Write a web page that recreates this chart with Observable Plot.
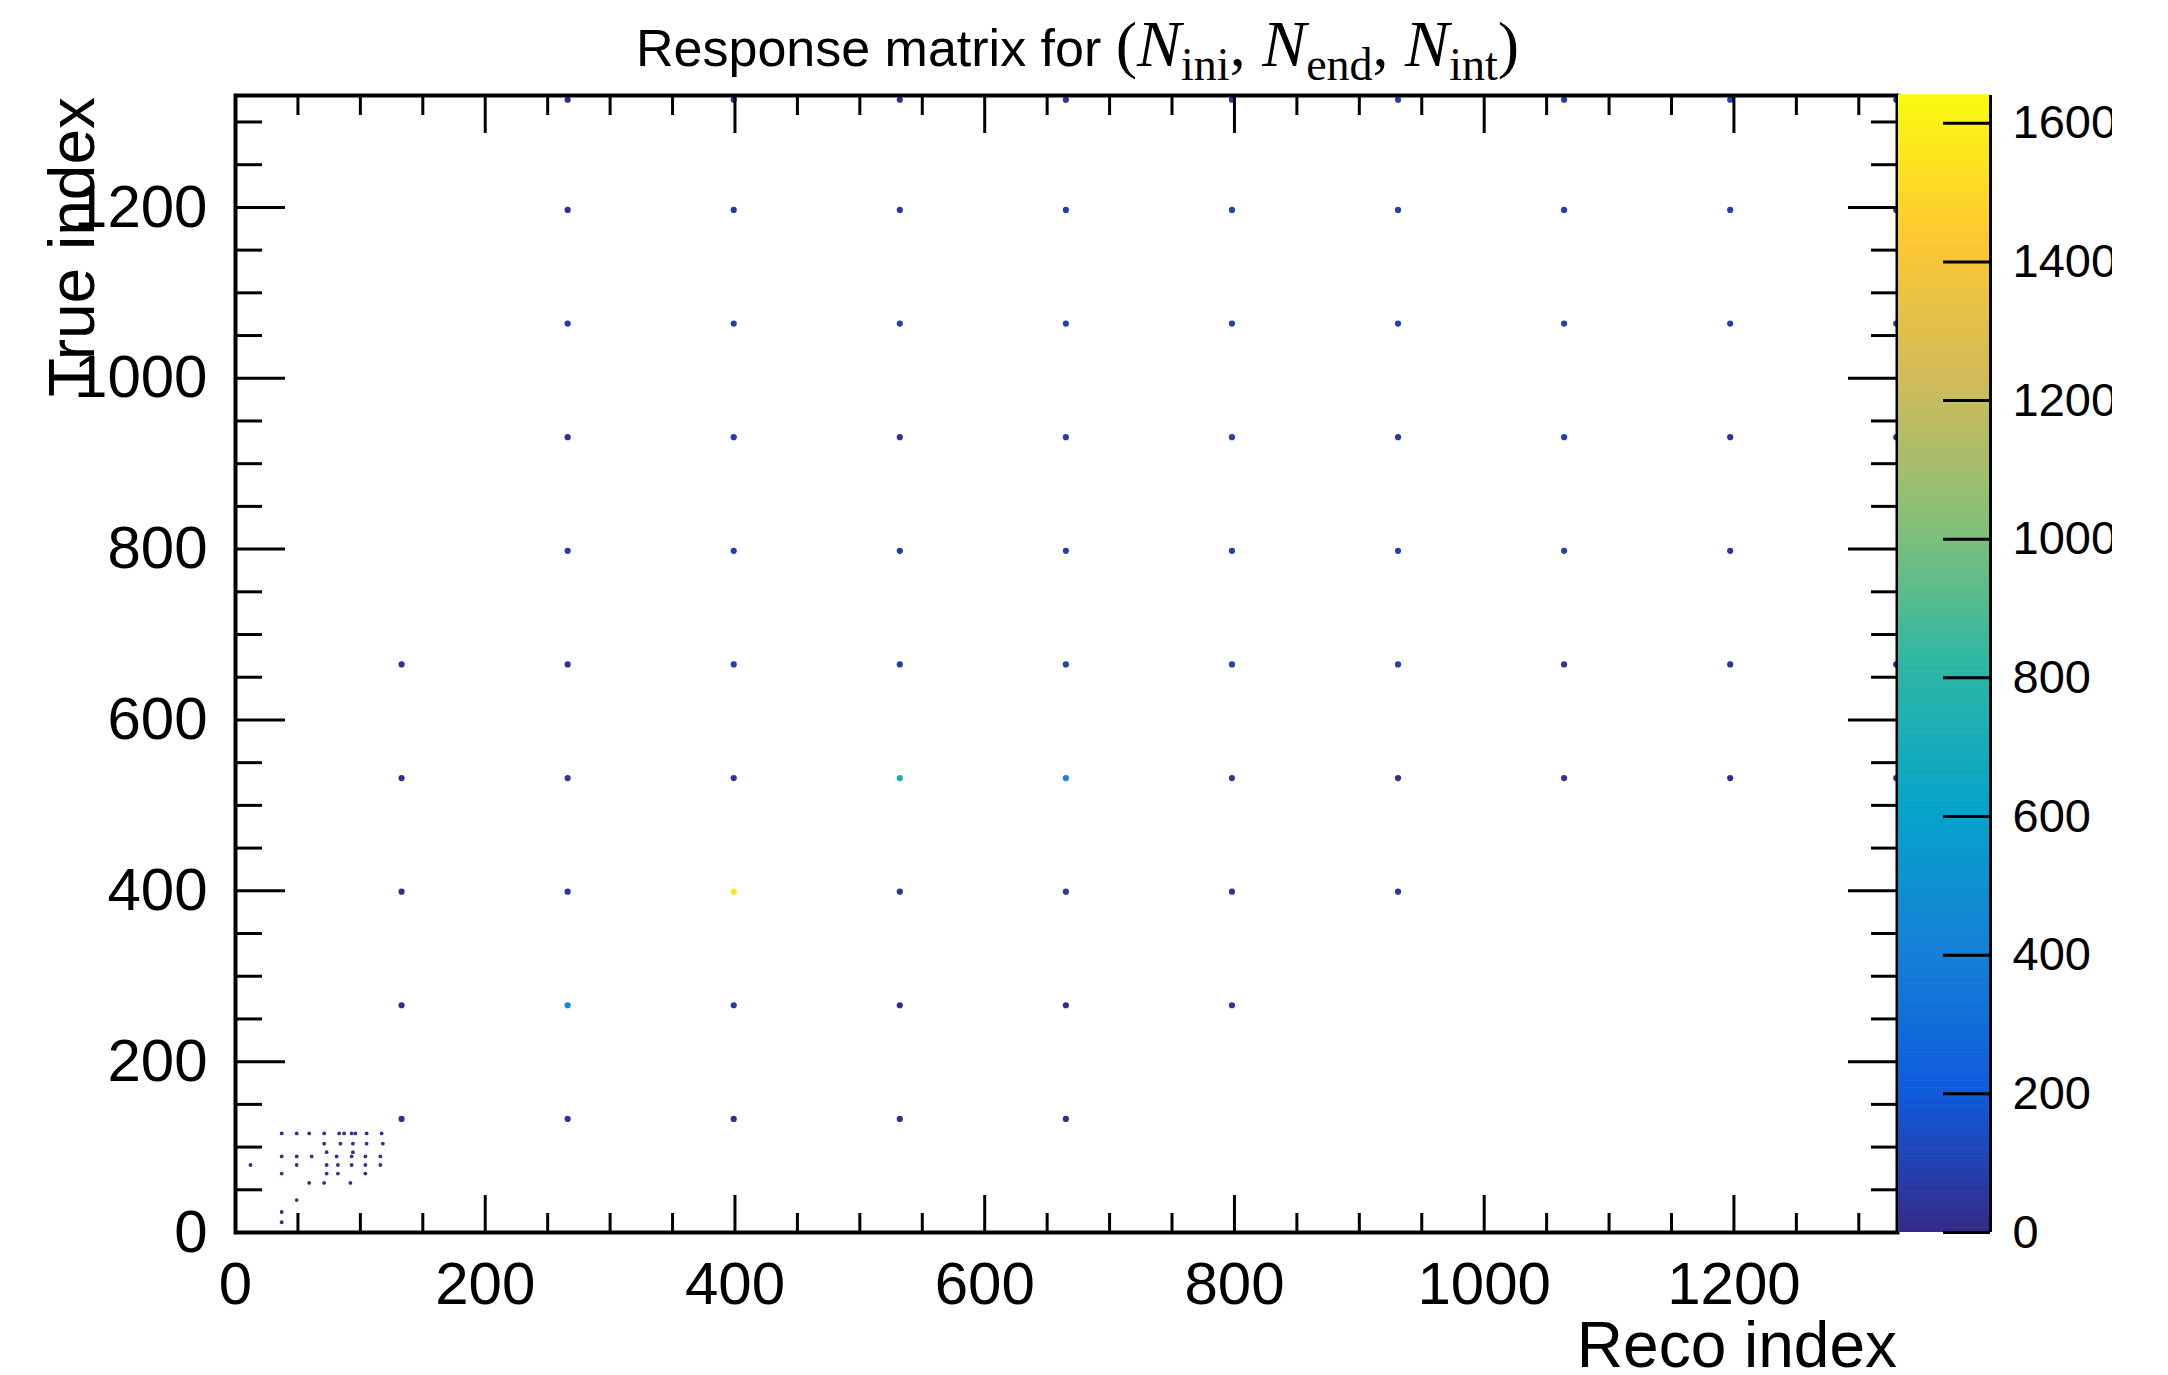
<!DOCTYPE html>
<html><head><meta charset="utf-8">
<script src="https://cdn.jsdelivr.net/npm/d3@7"></script>
<script src="https://cdn.jsdelivr.net/npm/@observablehq/plot@0.6"></script>
<style>
html,body{margin:0;padding:0;background:#fff;}
#root{position:relative;width:2168px;height:1375px;overflow:hidden;background:#fff;}
#main{position:absolute;left:0;top:0;}
#cbar{position:absolute;left:1898px;top:0;width:214px;height:1375px;overflow:hidden;}
#overlay{position:absolute;left:0;top:0;pointer-events:none;}
</style></head>
<body><div id="root"><div id="main"></div><div id="cbar"></div><svg id="overlay" width="2168" height="1375"></svg></div>
<script>
// ---------- data ----------
const recoCols = [133, 266, 399, 532, 665, 798, 931, 1064, 1197, 1330];
// counts of the blobs on each "true index" row, one entry per reco column (null = empty)
const row1326 = [null, 12, 12, 12, 40, 40, 80, 80, 80, 60];
const row1197 = [null, 30, 60, 50, 90, 90, 90, 90, 80, 40];
const row1064 = [null, 60, 80, 80, 90, 90, 90, 90, 100, 40];
const row931  = [null, 20, 80, 40, 90, 90, 70, 90, 40, 15];
const row798  = [null, 70, 80, 60, 90, 90, 80, 90, 40, null];
const row665  = [30, 40, 80, 90, 90, 90, 80, 50, 35, 25];
const row532  = [20, 50, 45, 700, 450, 50, 35, 35, 15, 15];
const row399  = [15, 45, 1550, 45, 50, 45, 50, null, null, null];
const row266  = [15, 480, 60, 15, 15, 40, null, null, null, null];
const row133  = [15, 50, 15, 15, 15, null, null, null, null, null];
const trueRows = [1326, 1197, 1064, 931, 798, 665, 532, 399, 266, 133];
const rowCounts = [row1326, row1197, row1064, row931, row798, row665, row532, row399, row266, row133];

// low-index cluster near the origin
const clusterReco  = [37, 49, 59, 71, 83, 87, 93, 96, 105, 117,  71, 84, 94, 105, 118,  73, 94,  37, 49, 61, 81, 93, 104, 116,  12, 49, 73, 82, 93, 104, 116,  37, 73, 82, 104,  59, 71, 92,  49, 37, 37];
const clusterTrue  = [116,116,116,116,116,116,116,116,116,116, 104,104,104,104,104, 94, 94, 89, 89, 89, 89, 89, 89, 89, 79, 79, 79, 79, 79, 79, 79, 69, 69, 69, 69, 58, 58, 58, 38, 24, 12];
const clusterCount = [20, 20, 25, 30, 35, 35, 35, 30, 30, 35,  20, 25, 25, 25, 25,  20, 20,  25, 25, 20, 30, 30, 30, 30,  15, 20, 25, 25, 25, 25, 25,  20, 20, 20, 20,  30, 30, 20,  20, 15, 15];

const xMajor = [0, 200, 400, 600, 800, 1000, 1200];
const xMinor = [50, 100, 150, 250, 300, 350, 450, 500, 550, 650, 700, 750, 850, 900, 950, 1050, 1100, 1150, 1250, 1300];
const yMajor = [0, 200, 400, 600, 800, 1000, 1200];
const yMinor = [50, 100, 150, 250, 300, 350, 450, 500, 550, 650, 700, 750, 850, 900, 950, 1050, 1100, 1150, 1250, 1300];
const zTicks = [0, 200, 400, 600, 800, 1000, 1200, 1400, 1600];
const zMax = 1640;
const birdStops = ["#352a87", "#0f5cdd", "#1481d6", "#06a4ca", "#2eb7a4", "#87bf77", "#d1bb59", "#fec832", "#f9fb0e"];

// ---------- tables ----------
const blobs = [];
rowCounts.forEach((row, j) => row.forEach((c, i) => {
  if (c != null) blobs.push({reco: recoCols[i], true: trueRows[j], count: c});
}));
const cluster = clusterReco.map((r, k) => ({reco: r, true: clusterTrue[k], count: clusterCount[k]}));

const bird = d3.piecewise(d3.interpolateRgb, birdStops);
const colorOpts = {type: "linear", domain: [0, zMax], interpolate: bird};
const font = "'Liberation Sans', Arial, Helvetica, sans-serif";
const fmt = d3.format("d");
const none = () => "";

const main = Plot.plot({
  width: 1898, height: 1375,
  marginLeft: 235, marginRight: 1, marginTop: 95, marginBottom: 143,
  x: {domain: [0, 1331]},
  y: {domain: [0, 1331]},
  color: colorOpts,
  style: {fontFamily: font, fontSize: "60px", background: "transparent", color: "#000", overflow: "visible"},
  marks: [
    Plot.dot(blobs, {x: "reco", y: "true", fill: "count", r: 3.1}),
    Plot.dot(cluster, {x: "reco", y: "true", fill: "count", r: 1.9}),
    // bottom
    Plot.axisX({anchor: "bottom", ticks: xMajor, tickSize: -37, strokeWidth: 3, tickFormat: none, label: null}),
    Plot.axisX({anchor: "bottom", ticks: xMinor, tickSize: -19, strokeWidth: 3, tickFormat: none, label: null}),
    Plot.axisX({anchor: "bottom", ticks: xMajor, tickSize: 0, tickPadding: 29, tickFormat: fmt, fontSize: 60, label: null}),
    // top
    Plot.axisX({anchor: "top", ticks: xMajor, tickSize: -37, strokeWidth: 3, tickFormat: none, label: null}),
    Plot.axisX({anchor: "top", ticks: xMinor, tickSize: -19, strokeWidth: 3, tickFormat: none, label: null}),
    // left
    Plot.axisY({anchor: "left", ticks: yMajor, tickSize: -50, strokeWidth: 3, tickFormat: none, label: null}),
    Plot.axisY({anchor: "left", ticks: yMinor, tickSize: -27, strokeWidth: 3, tickFormat: none, label: null}),
    Plot.axisY({anchor: "left", ticks: yMajor, tickSize: 0, tickPadding: 28, tickFormat: fmt, fontSize: 60, label: null}),
    // right
    Plot.axisY({anchor: "right", ticks: yMajor, tickSize: -50, strokeWidth: 3, tickFormat: none, label: null}),
    Plot.axisY({anchor: "right", ticks: yMinor, tickSize: -27, strokeWidth: 3, tickFormat: none, label: null}),
    Plot.frame({strokeWidth: 4})
  ]
});
document.getElementById("main").appendChild(main);

const ramp = d3.range(0, zMax, 2);
const cbar = Plot.plot({
  width: 214, height: 1375,
  marginLeft: 0, marginRight: 122, marginTop: 95, marginBottom: 143,
  x: {domain: [0, 1], axis: null},
  y: {domain: [0, zMax]},
  color: colorOpts,
  style: {fontFamily: font, fontSize: "47px", background: "transparent", color: "#000", overflow: "hidden"},
  marks: [
    Plot.rect(ramp, {x1: d => 0, x2: d => 1, y1: d => d, y2: d => d + 3, fill: d => d + 1}),
    Plot.ruleY(zTicks, {y: d => d, x1: d => 0.49, x2: d => 1, strokeWidth: 3}),
    Plot.ruleX([1], {strokeWidth: 3}),
    Plot.axisY({anchor: "right", ticks: zTicks, tickSize: 0, tickPadding: 22, tickFormat: fmt, fontSize: 47, label: null})
  ]
});
document.getElementById("cbar").appendChild(cbar);

// ---------- titles ----------
const ov = d3.select("#overlay");
const t = ov.append("text").attr("x", 636).attr("y", 66)
  .attr("font-family", font).attr("font-size", 52).attr("fill", "#000");
t.append("tspan").text("Response matrix for ");
const serif = "'Liberation Serif', 'Times New Roman', serif";
const parts = [
  ["(", 64, "normal", 0], ["N", 66, "italic", 0], ["ini", 46, "normal", 14],
  [",", 64, "normal", -14], [" N", 66, "italic", 0], ["end", 46, "normal", 14],
  [",", 64, "normal", -14], [" N", 66, "italic", 0], ["int", 46, "normal", 14],
  [")", 64, "normal", -14]
];
parts.forEach(([s, fs, st, dy]) => {
  t.append("tspan").attr("font-family", serif).attr("font-size", fs)
    .attr("font-style", st).attr("dy", dy).text(s);
});
ov.append("text").attr("transform", "translate(94,97) rotate(-90)")
  .attr("text-anchor", "end").attr("font-family", font).attr("font-size", 64).text("True index");
ov.append("text").attr("x", 1897).attr("y", 1367)
  .attr("text-anchor", "end").attr("font-family", font).attr("font-size", 64).text("Reco index");
</script></body></html>
